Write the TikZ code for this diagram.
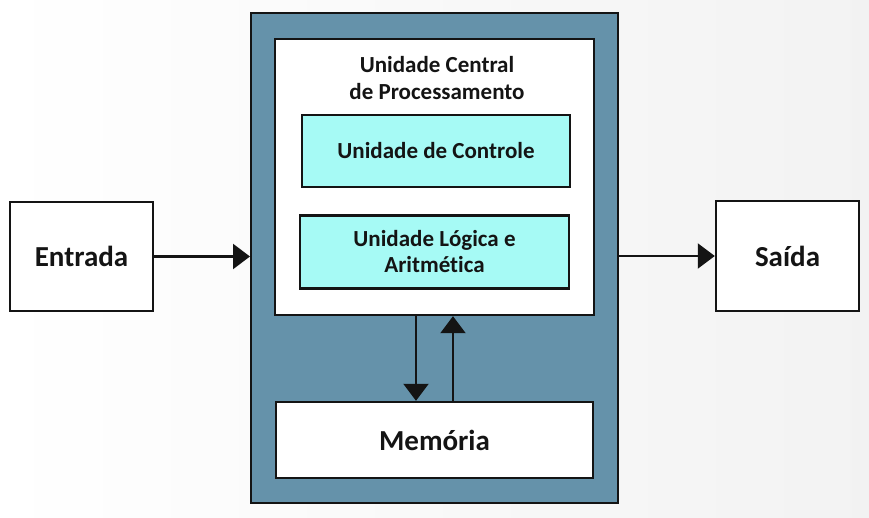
\documentclass[tikz,border=0pt]{standalone}
\usepackage{fontspec}
\setmainfont{Carlito}[Ligatures=NoCommon]
\usepackage{xcolor}
\usetikzlibrary{arrows.meta,positioning}

\definecolor{cpublue}{RGB}{101,146,170}
\definecolor{aqua}{RGB}{166,250,245}
\definecolor{ink}{RGB}{20,20,20}

\tikzset{
  box/.style={draw=ink,line width=2.4pt,fill=white,inner sep=0pt,align=center,
    text=ink,font=\bfseries\fontsize{29}{34}\selectfont},
  unitbox/.style={box,fill=aqua,font=\bfseries\fontsize{23}{26}\selectfont},
  flow/.style={draw=ink,line width=2.2pt,-{Triangle[width=25pt,length=17pt]}}
}

\begin{document}
\begin{tikzpicture}[x=1pt,y=-1pt]
  % margins of the page
  \useasboundingbox (0,0) rectangle (869,518);
  \shade[left color=white,right color=black!5] (0,0) rectangle (869,518);

  \node[box,minimum width=143pt,minimum height=109pt] (entrada) at (81.5,256.5) {Entrada};
  \node[box,minimum width=143pt,minimum height=110pt] (saida)   at (787.5,256)  {Saída};

  \node[box,fill=cpublue,line width=2pt,minimum width=367pt,minimum height=490pt] (outer) at (434.5,258) {};
  \node[box,minimum width=319pt,minimum height=276pt] (cpu) at (434.5,177) {};
  \node[text=ink,align=center,font=\bfseries\fontsize{23}{27}\selectfont] (title) at (437,78)
       {Unidade Central\\de Processamento};
  \node[unitbox,minimum width=268pt,minimum height=72pt] (uc)  at (436,151)   {Unidade de Controle};
  \node[unitbox,minimum width=269pt,minimum height=73pt] (ula) at (434.5,252) {Unidade Lógica e\\Aritmética};
  \node[box,minimum width=317pt,minimum height=76pt] (mem) at (434.5,440) {Memória};

  % connectors
  \draw[flow] (entrada) -- (entrada -| outer.west);
  \draw[flow] (outer.east |- saida) -- (saida);
  \draw[flow] ([xshift=-18.5pt]cpu.south) -- ([xshift=-18.5pt]cpu.south |- mem.north);
  \draw[flow] ([xshift=18.5pt]mem.north) -- ([xshift=18.5pt]mem.north |- cpu.south);
\end{tikzpicture}
\end{document}
